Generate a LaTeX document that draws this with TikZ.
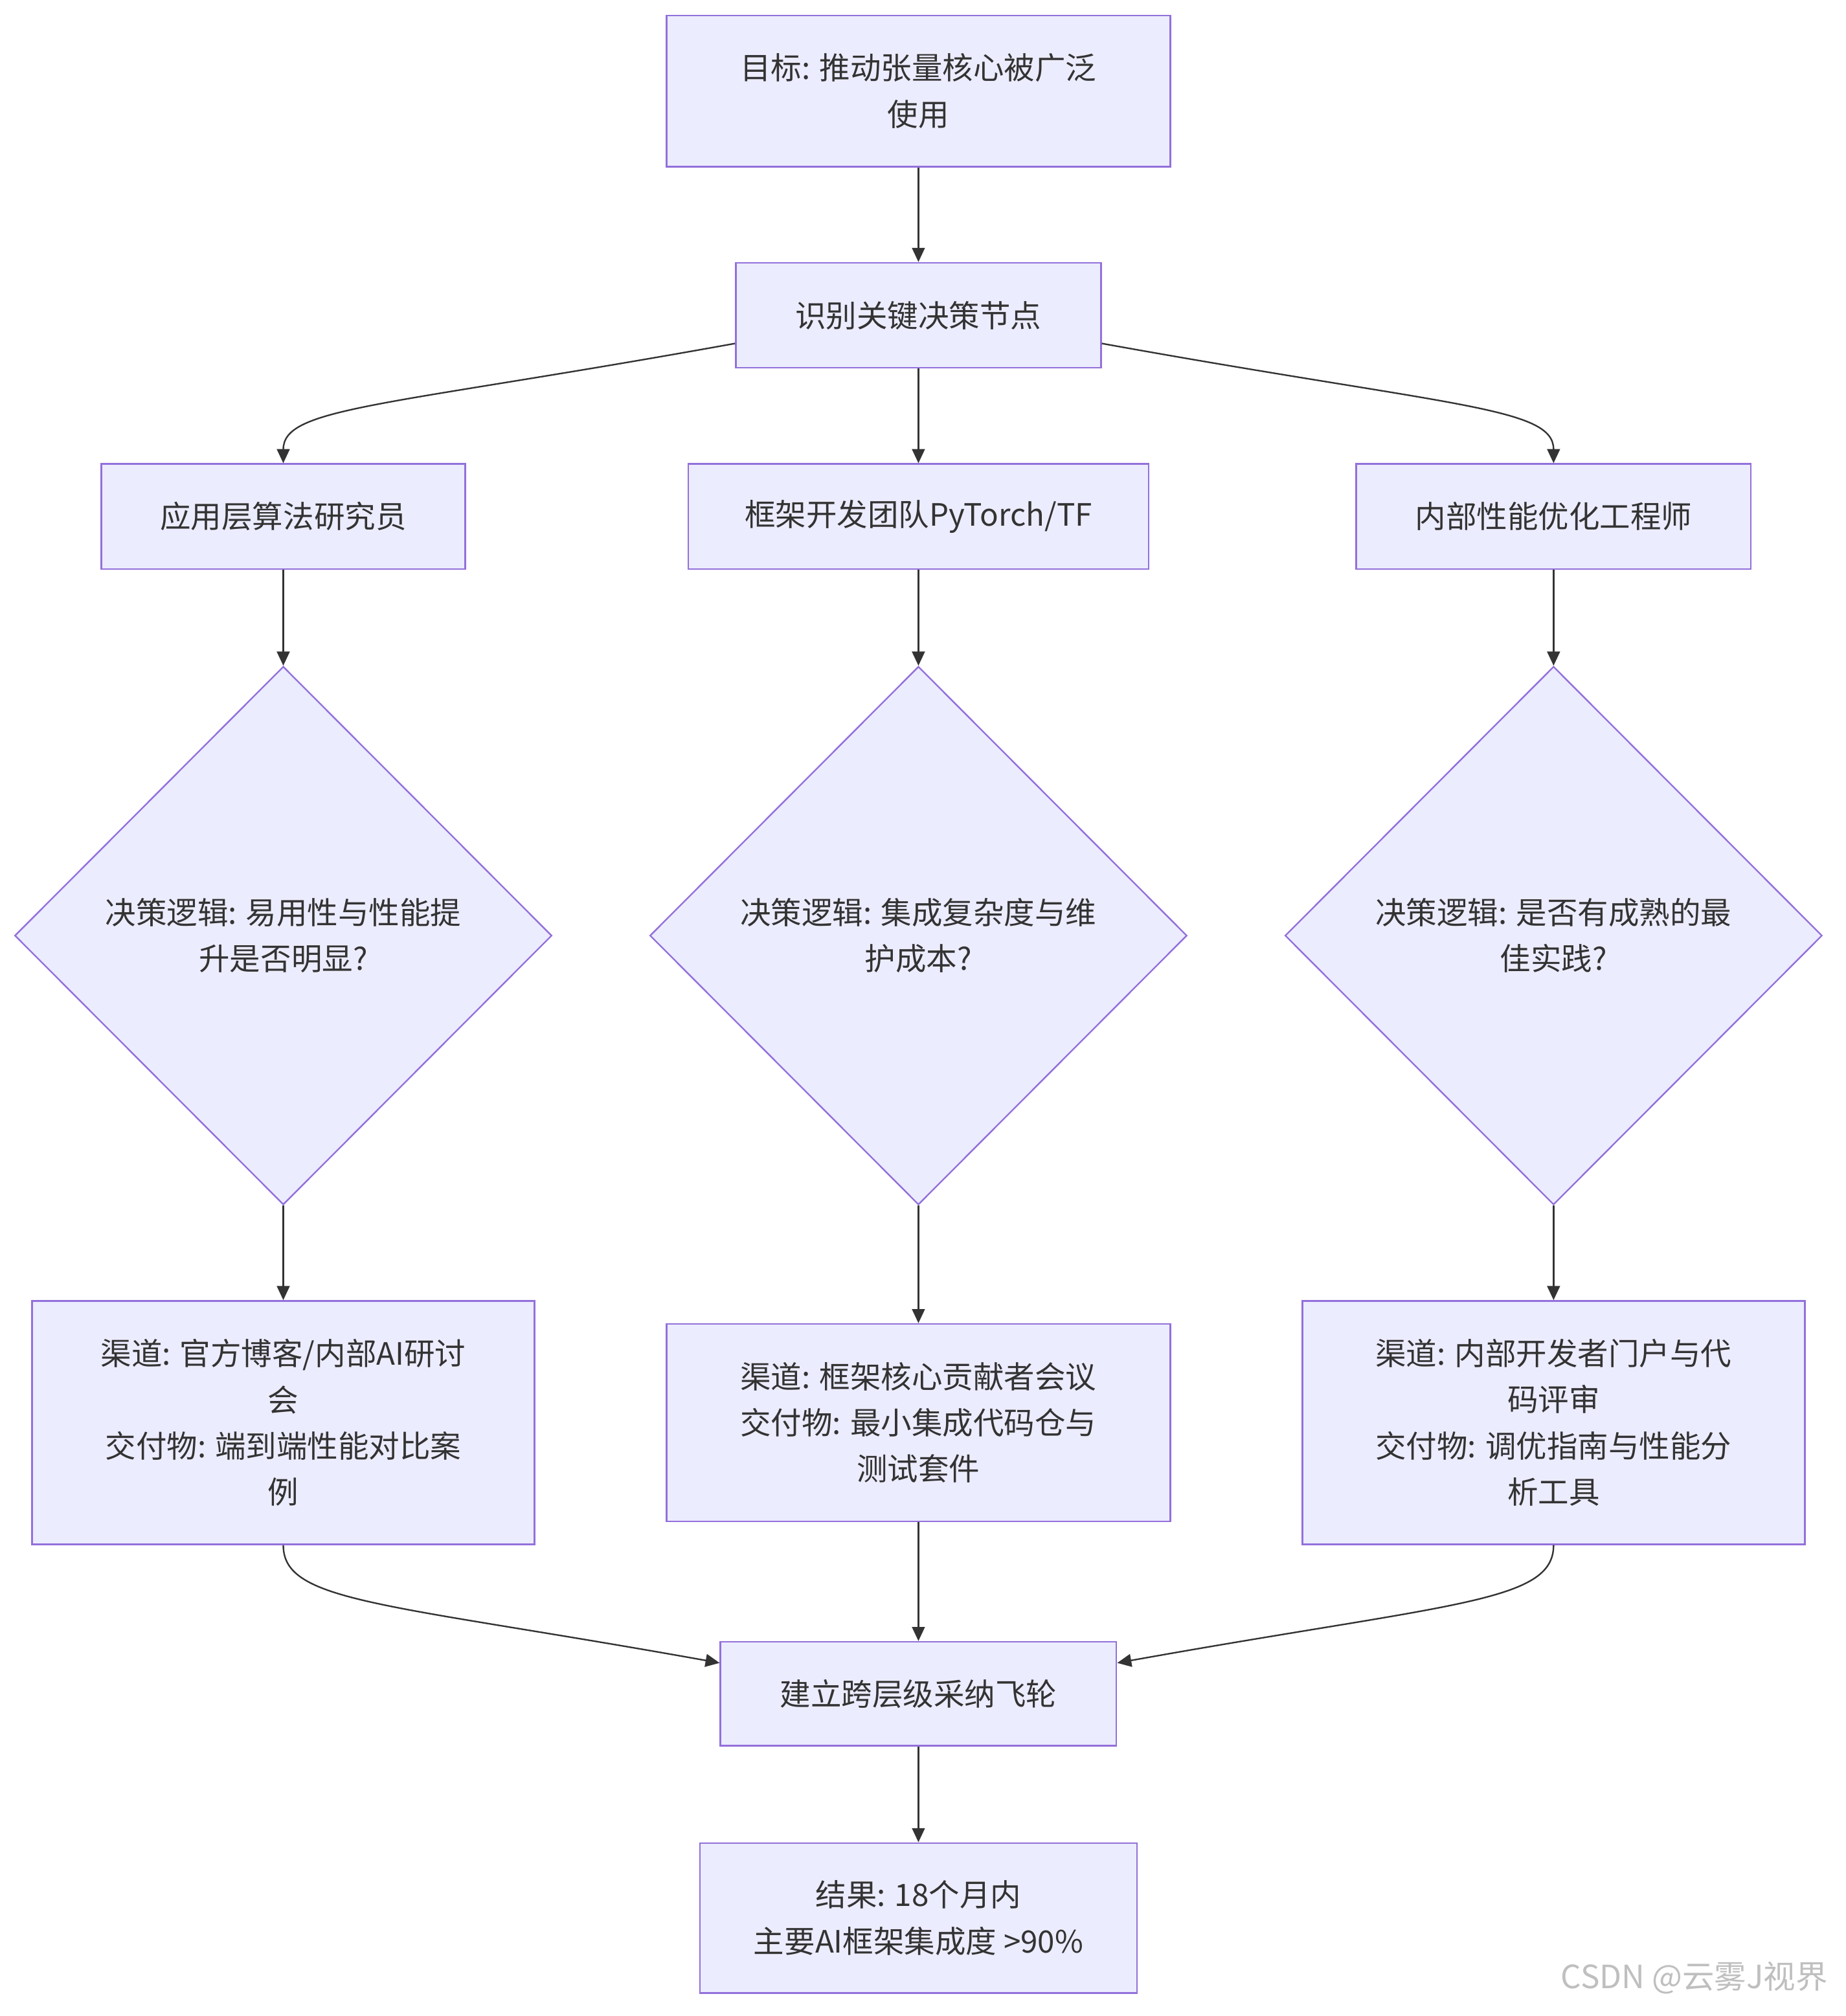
\documentclass[tikz,border=0pt]{standalone}
\usepackage{fontspec}
\usepackage{xcolor}
\usepackage{tikz}
\usetikzlibrary{shapes.geometric,arrows.meta,calc}
\newfontfamily\cjk{Noto Sans CJK SC}
\definecolor{boxfill}{HTML}{ECECFF}
\definecolor{boxline}{HTML}{9370DB}
\definecolor{ink}{HTML}{333333}

\begin{document}
\begin{tikzpicture}[x=0.5pt,y=-0.5pt,
    box/.style={draw=boxline,fill=boxfill,line width=0.6pt,inner sep=0pt,align=center,text=ink,font=\cjk\fontsize{12}{18}\selectfont},
    choice/.style={box,diamond,aspect=1,minimum width=209.5pt,minimum height=210pt},
    link/.style={draw=ink,line width=0.6pt,-{Triangle[length=5.5pt,width=5pt]}}]
    \useasboundingbox (0,0) rectangle (1440,1573);
    % top
    \node [box,minimum width=196.5pt,minimum height=59pt] (goal) at (716.5,71) {目标: 推动张量核心被广泛\\使用};
    \node [box,minimum width=142.5pt,minimum height=41pt] (ident) at (716.5,246) {识别关键决策节点};
    % groups
    \node [box,minimum width=142pt,minimum height=41pt] (app) at (221,403) {应用层算法研究员};
    \node [box,minimum width=179.5pt,minimum height=41pt] (fw) at (716.5,403) {框架开发团队PyTorch/TF};
    \node [box,minimum width=154pt,minimum height=41pt] (perf) at (1212,403) {内部性能优化工程师};
    % decisions
    \node [choice] (dapp) at (221,730) {决策逻辑: 易用性与性能提\\升是否明显?};
    \node [choice] (dfw) at (716.5,730) {决策逻辑: 集成复杂度与维\\护成本?};
    \node [choice] (dperf) at (1212,730) {决策逻辑: 是否有成熟的最\\佳实践?};
    % channels
    \node [box,minimum width=196pt,minimum height=95pt] (chapp) at (221,1110) {渠道: 官方博客/内部AI研讨\\会\\交付物: 端到端性能对比案\\例};
    \node [box,minimum width=196.5pt,minimum height=77pt] (chfw) at (716.5,1110) {渠道: 框架核心贡献者会议\\交付物: 最小集成代码仓与\\测试套件};
    \node [box,minimum width=196pt,minimum height=95pt] (chperf) at (1212,1110) {渠道: 内部开发者门户与代\\码评审\\交付物: 调优指南与性能分\\析工具};
    % bottom
    \node [box,minimum width=154.5pt,minimum height=40.5pt] (fly) at (716.5,1321.5) {建立跨层级采纳飞轮};
    \node [box,minimum width=170.5pt,minimum height=58.5pt] (res) at (716.5,1496.5) {结果: 18个月内\\主要AI框架集成度 >90\%};
    \node [anchor=east,text=black!25,font=\cjk\fontsize{12.5}{15}\selectfont] (mark) at (1433,1543) {CSDN @云雾J视界};
    % links
    \draw [link] (goal) -- (ident);
    \draw [link] (ident) -- (fw);
    \draw [link] ($(ident.west)+(0,22)$) .. controls ($(app.north)+(79,-44)$) and ($(app.north)+(0,-44)$) .. (app.north);
    \draw [link] ($(ident.east)+(0,22)$) .. controls ($(perf.north)+(-79,-44)$) and ($(perf.north)+(0,-44)$) .. (perf.north);
    \foreach \a/\b in {app/dapp,fw/dfw,perf/dperf,dapp/chapp,dfw/chfw,dperf/chperf} {
        \draw [link] (\a.south) -- (\b.north);
    }
    \draw [link] (chapp.south) .. controls ($(chapp.south)+(0,45)$) and ($(chapp.south)+(79,45)$) .. ($(fly.west)+(0,-24)$);
    \draw [link] (chperf.south) .. controls ($(chperf.south)+(0,45)$) and ($(chperf.south)+(-79,45)$) .. ($(fly.east)+(0,-24)$);
    \draw [link] (chfw) -- (fly);
    \draw [link] (fly) -- (res);
\end{tikzpicture}
\end{document}
